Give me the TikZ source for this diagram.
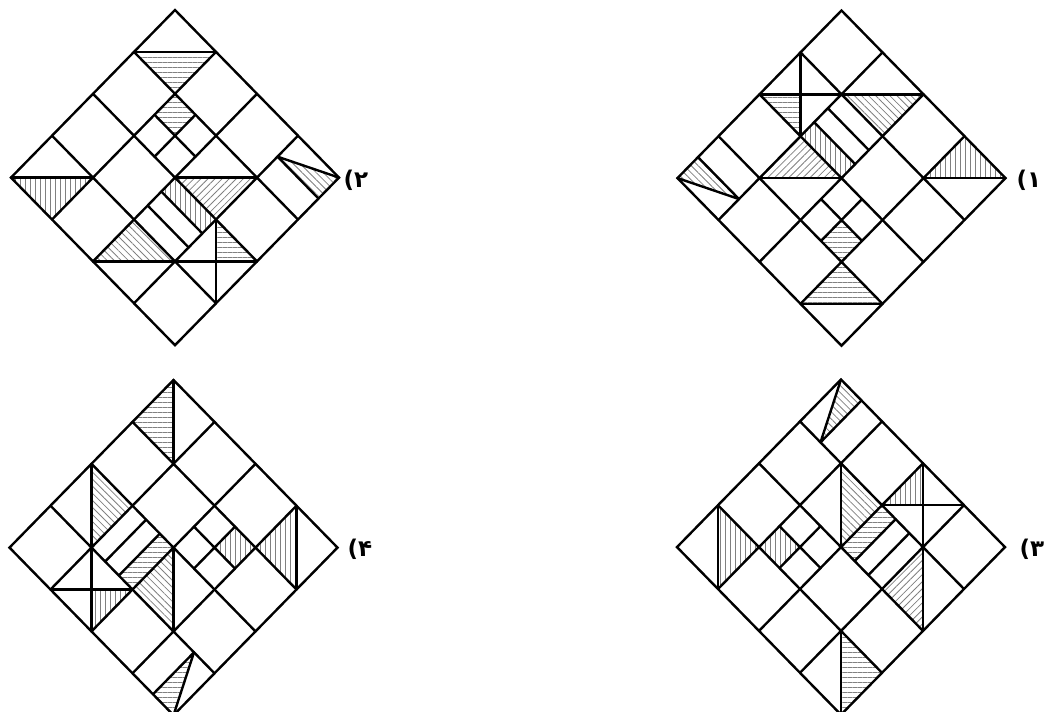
\documentclass[tikz,border=0pt]{standalone}
\usepackage{fontspec}
\usetikzlibrary{patterns.meta}
\newfontfamily\arabicfont[Script=Arabic]{DejaVu Sans}

\begin{document}
\begin{tikzpicture}[x=1pt, y=-1pt,
    edge/.style={line width=2.4pt, line cap=round},
    hatchH/.style={pattern={Lines[angle=0, distance=5pt, line width=0.8pt]}, pattern color=black!50},
    hatchV/.style={pattern={Lines[angle=90, distance=5pt, line width=0.8pt]}, pattern color=black!50},
    hatchA/.style={pattern={Lines[angle=45, distance=5pt, line width=0.8pt]}, pattern color=black!50},
    hatchB/.style={pattern={Lines[angle=-45, distance=5pt, line width=0.8pt]}, pattern color=black!50},
    figlabel/.style={font=\arabicfont\bfseries\fontsize{23}{23}\selectfont, inner sep=0pt}]

\useasboundingbox (0,0) rectangle (1053,712);
\clip (0,0) rectangle (1053,712);

% Figure 2 (top left)
\begin{scope}[shift={(175pt,-10pt)}, x={(41pt,-41.9pt)}, y={(-41pt,-41.9pt)}]
% hatched parts
\fill[hatchH] (0,1) -- (1,0) -- (1,1) -- cycle;
\fill[hatchH] (1,1) -- (1.5,1) -- (1.5,1.5) -- (1,1.5) -- cycle;
\fill[hatchV] (0,4) -- (1,3) -- (1,4) -- cycle;
\fill[hatchA] (2,2) -- (3,1) -- (3,2) -- cycle;
\fill[hatchB] (3,0.5) -- (4,0) -- (4,0.5) -- cycle;
\fill[hatchV] (2,2) -- (3,2) -- (3,2.333) -- (2,2.333) -- cycle;
\fill[hatchB] (2,3) -- (2,4) -- (3,3) -- cycle;
\fill[hatchH] (3,2) -- (3.5,2.5) -- (4,2) -- cycle;
% grid
\draw[edge] (0,0) -- (4,0) -- (4,4) -- (0,4) -- cycle;
\foreach \k in {1,2,3} {\draw[edge] (\k,0) -- (\k,4) (0,\k) -- (4,\k);}
% extra lines
\draw[edge] (0,1) -- (1,0);
\draw[edge] (1.5,1) -- (1.5,2) (1,1.5) -- (2,1.5);
\draw[edge] (0,4) -- (1,3);
\draw[edge] (2,2) -- (3,1);
\draw[edge] (3,0.5) -- (4,0.5) (3,0.5) -- (4,0);
\draw[edge] (2,2.333) -- (3,2.333) (2,2.667) -- (3,2.667);
\draw[edge] (2,4) -- (4,2);
\draw[edge] (3,2) -- (4,3);
\end{scope}

% Figure 1 (top right)
\begin{scope}[shift={(841.5pt,-10.5pt)}, x={(41pt,-41.9pt)}, y={(-41pt,-41.9pt)}]
% hatched parts
\fill[hatchH] (4,3) -- (3,4) -- (3,3) -- cycle;
\fill[hatchH] (3,3) -- (2.5,3) -- (2.5,2.5) -- (3,2.5) -- cycle;
\fill[hatchV] (4,0) -- (3,1) -- (3,0) -- cycle;
\fill[hatchA] (2,2) -- (1,3) -- (1,2) -- cycle;
\fill[hatchB] (1,3.5) -- (0,4) -- (0,3.5) -- cycle;
\fill[hatchV] (2,2) -- (1,2) -- (1,1.667) -- (2,1.667) -- cycle;
\fill[hatchB] (2,1) -- (2,0) -- (1,1) -- cycle;
\fill[hatchH] (1,2) -- (0.5,1.5) -- (0,2) -- cycle;
% grid
\draw[edge] (0,0) -- (4,0) -- (4,4) -- (0,4) -- cycle;
\foreach \k in {1,2,3} {\draw[edge] (\k,0) -- (\k,4) (0,\k) -- (4,\k);}
% extra lines
\draw[edge] (4,3) -- (3,4);
\draw[edge] (2.5,3) -- (2.5,2) (3,2.5) -- (2,2.5);
\draw[edge] (4,0) -- (3,1);
\draw[edge] (2,2) -- (1,3);
\draw[edge] (1,3.5) -- (0,3.5) (1,3.5) -- (0,4);
\draw[edge] (2,1.667) -- (1,1.667) (2,1.333) -- (1,1.333);
\draw[edge] (2,0) -- (0,2);
\draw[edge] (1,2) -- (0,1);
\end{scope}

% Figure 4 (bottom left)
\begin{scope}[shift={(173.5pt,-380pt)}, x={(41pt,-41.9pt)}, y={(-41pt,-41.9pt)}]
% hatched parts
\fill[hatchV] (3,0) -- (4,1) -- (3,1) -- cycle;
\fill[hatchV] (3,1) -- (3,1.5) -- (2.5,1.5) -- (2.5,1) -- cycle;
\fill[hatchH] (0,0) -- (1,1) -- (0,1) -- cycle;
\fill[hatchB] (2,2) -- (3,3) -- (2,3) -- cycle;
\fill[hatchH] (3.5,3) -- (4,4) -- (3.5,4) -- cycle;
\fill[hatchH] (1.667,2) -- (2,2) -- (2,3) -- (1.667,3) -- cycle;
\fill[hatchB] (1,2) -- (0,2) -- (1,3) -- cycle;
\fill[hatchV] (2,3) -- (1.5,3.5) -- (2,4) -- cycle;
% grid
\draw[edge] (0,0) -- (4,0) -- (4,4) -- (0,4) -- cycle;
\foreach \k in {1,2,3} {\draw[edge] (\k,0) -- (\k,4) (0,\k) -- (4,\k);}
% extra lines
\draw[edge] (3,0) -- (4,1);
\draw[edge] (3,1.5) -- (2,1.5) (2.5,1) -- (2.5,2);
\draw[edge] (0,0) -- (1,1);
\draw[edge] (2,2) -- (3,3);
\draw[edge] (3.5,3) -- (3.5,4) (3.5,3) -- (4,4);
\draw[edge] (1.667,2) -- (1.667,3) (1.333,2) -- (1.333,3);
\draw[edge] (0,2) -- (2,4);
\draw[edge] (2,3) -- (1,4);
\end{scope}

% Figure 3 (bottom right)
\begin{scope}[shift={(841pt,-379.5pt)}, x={(41pt,-41.9pt)}, y={(-41pt,-41.9pt)}]
% hatched parts
\fill[hatchV] (1,4) -- (0,3) -- (1,3) -- cycle;
\fill[hatchV] (1,3) -- (1,2.5) -- (1.5,2.5) -- (1.5,3) -- cycle;
\fill[hatchH] (4,4) -- (3,3) -- (4,3) -- cycle;
\fill[hatchB] (2,2) -- (1,1) -- (2,1) -- cycle;
\fill[hatchB] (0.5,1) -- (0,0) -- (0.5,0) -- cycle;
\fill[hatchH] (2.333,2) -- (2,2) -- (2,1) -- (2.333,1) -- cycle;
\fill[hatchA] (3,2) -- (4,2) -- (3,1) -- cycle;
\fill[hatchV] (2,1) -- (2.5,0.5) -- (2,0) -- cycle;
% grid
\draw[edge] (0,0) -- (4,0) -- (4,4) -- (0,4) -- cycle;
\foreach \k in {1,2,3} {\draw[edge] (\k,0) -- (\k,4) (0,\k) -- (4,\k);}
% extra lines
\draw[edge] (1,4) -- (0,3);
\draw[edge] (1,2.5) -- (2,2.5) (1.5,3) -- (1.5,2);
\draw[edge] (4,4) -- (3,3);
\draw[edge] (2,2) -- (1,1);
\draw[edge] (0.5,1) -- (0.5,0) (0.5,1) -- (0,0);
\draw[edge] (2.333,2) -- (2.333,1) (2.667,2) -- (2.667,1);
\draw[edge] (4,2) -- (2,0);
\draw[edge] (2,1) -- (3,0);
\end{scope}

% Labels
\node[figlabel] (lab1) at (1029,180) {۱)};
\node[figlabel] (lab2) at (356,180) {۲)};
\node[figlabel] (lab3) at (1032,549) {۳)};
\node[figlabel] (lab4) at (360,549) {۴)};

\end{tikzpicture}
\end{document}
